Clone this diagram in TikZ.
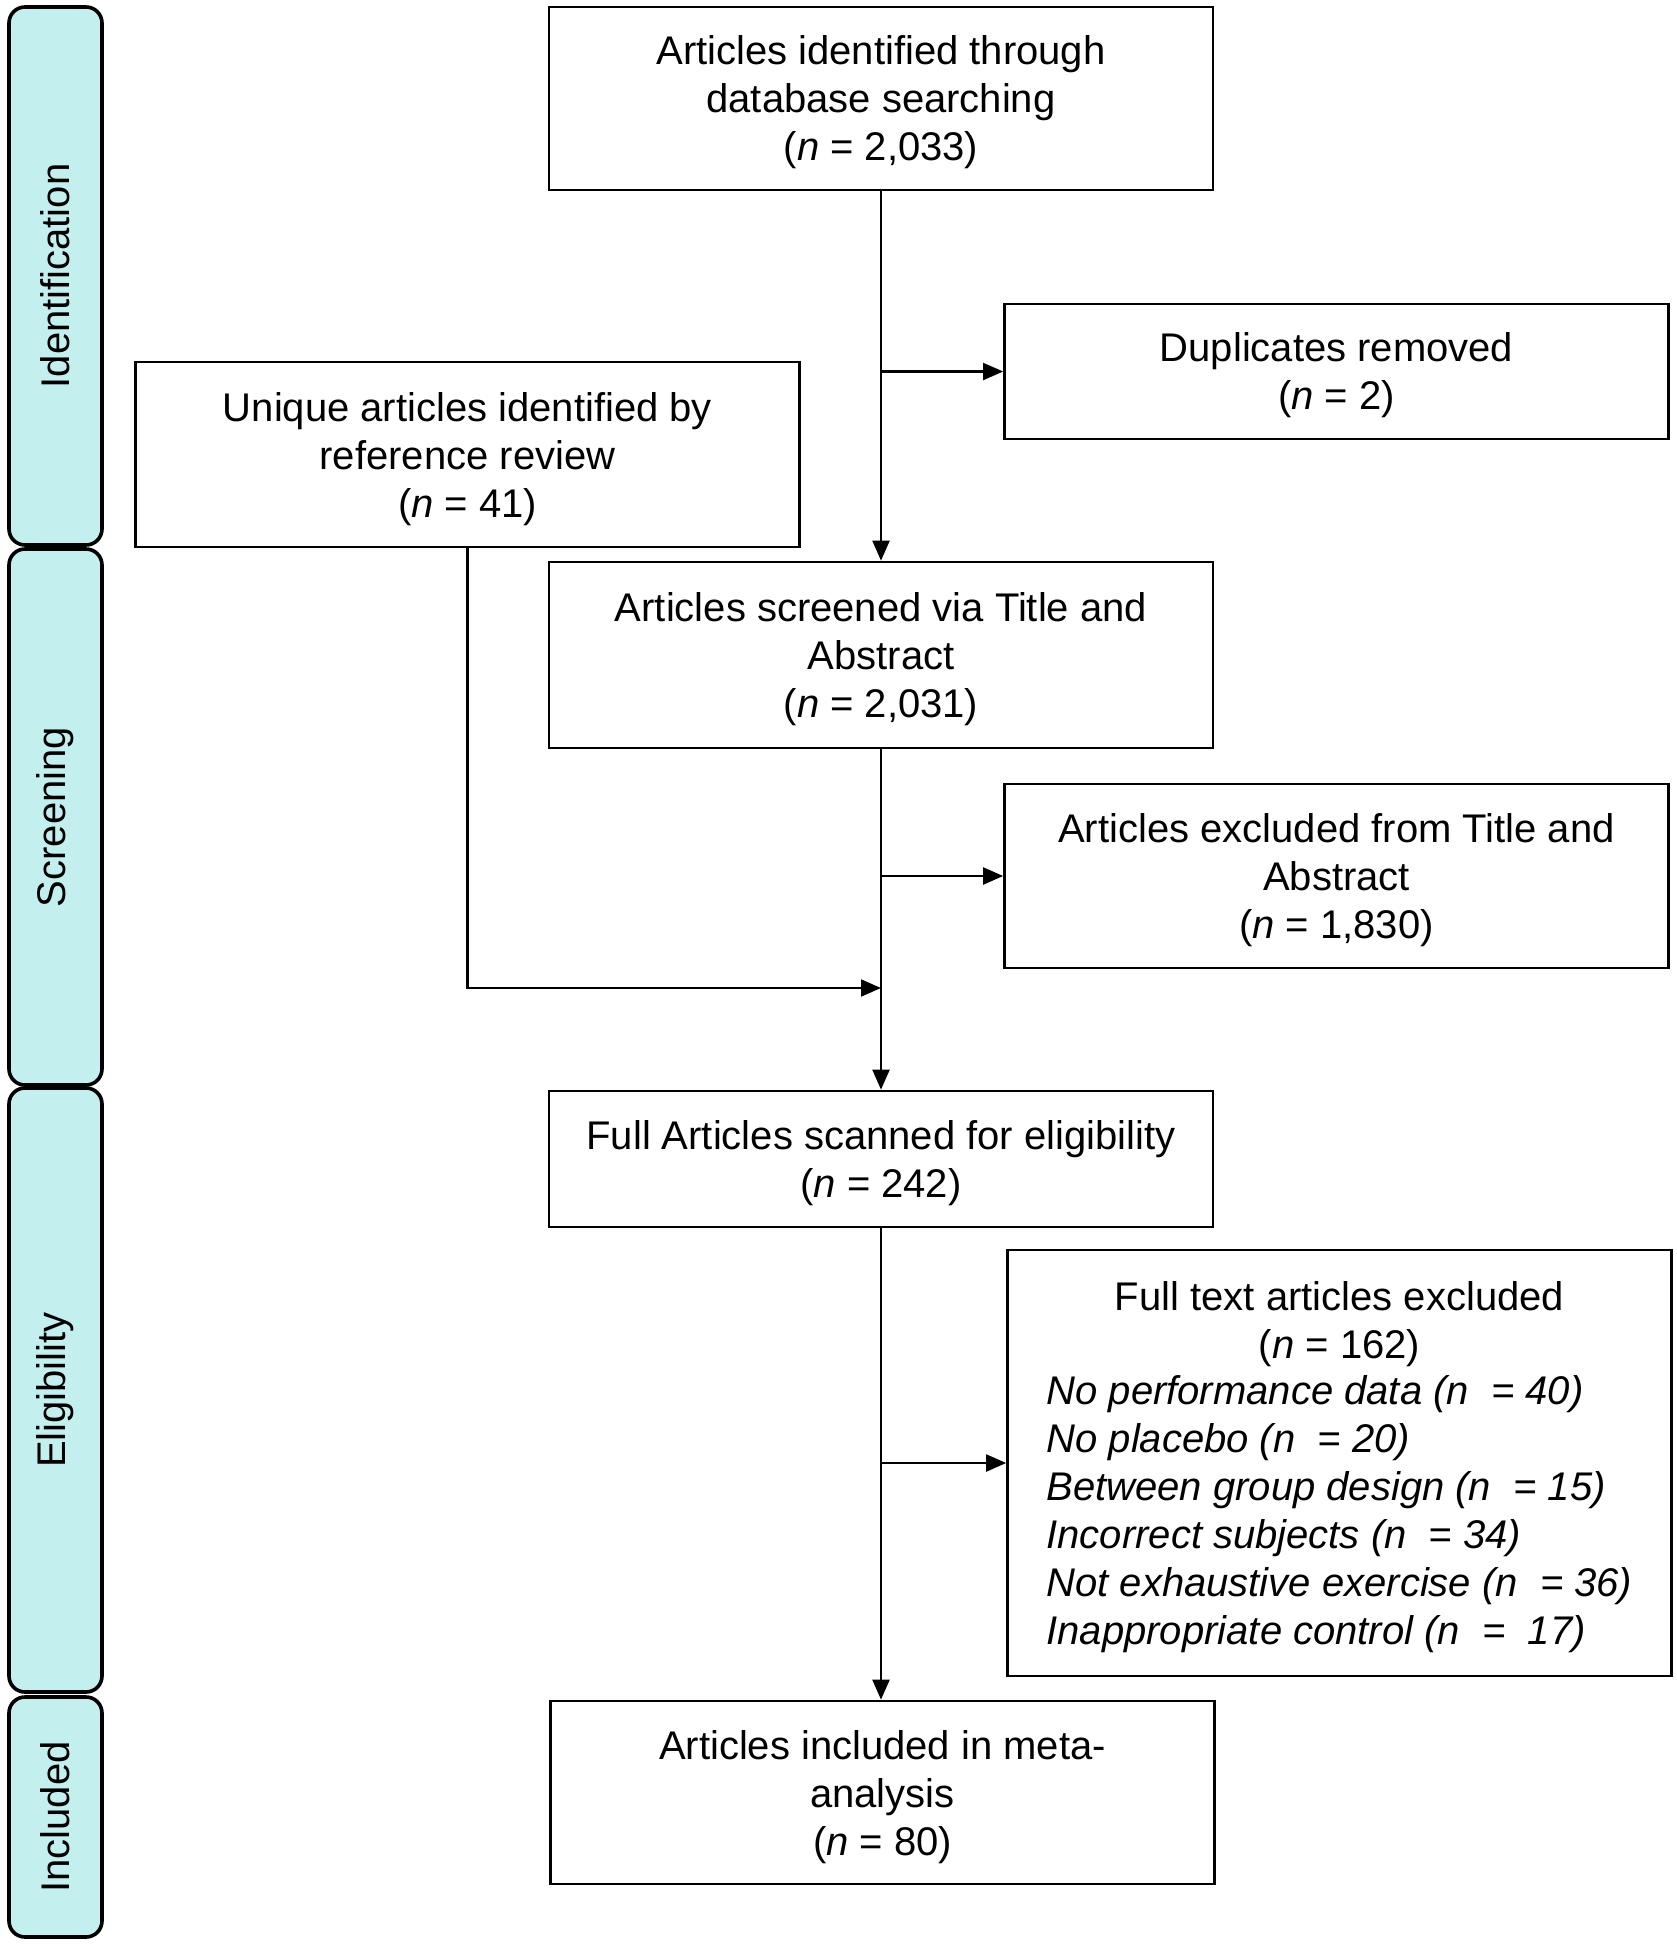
\documentclass[tikz,border=0pt]{standalone}
\usepackage{fontspec}
\setmainfont{Liberation Sans}
\usepackage{tikz}
\usetikzlibrary{arrows.meta}
\definecolor{barfill}{RGB}{196,239,239}

\begin{document}
\begin{tikzpicture}[x=0.25pt,y=-0.25pt,line width=0.65pt,>={Triangle[length=5pt,width=4.2pt]},
  box/.style={draw,minimum width=166pt,align=center,inner sep=2pt,text depth=0pt,font=\fontsize{10}{12}\selectfont},
  phase/.style={draw,fill=barfill,rounded corners=4pt,line width=0.9pt,minimum width=23.25pt,inner sep=0pt,rotate=90,font=\fontsize{10}{12}\selectfont}]
  \useasboundingbox (0,0) rectangle (1677,1950);
  \node[phase,minimum width=134.5pt,minimum height=23.25pt] (Idb) at (55.5,276) {Identification};
  \node[phase,minimum width=134pt,minimum height=23.25pt] (Scb) at (55.5,817) {Screening};
  \node[phase,minimum width=151pt,minimum height=23.25pt] (Elb) at (55.5,1390) {Eligibility};
  \node[phase,minimum width=60pt,minimum height=23.25pt] (Inb) at (55.5,1817) {Included};
  \node[box,minimum height=45.75pt] (Db) at (881,98.5) {Articles identified through\\database searching\\(\textit{n} = 2,033)};
  \node[box,minimum height=33.75pt] (Dup) at (1336.5,371.5) {Duplicates removed\\(\textit{n} = 2)};
  \node[box,minimum height=46.25pt] (Ref) at (467.5,454.5) {Unique articles identified by\\reference review\\(\textit{n} = 41)};
  \node[box,minimum height=46.5pt] (Scr) at (881,655) {Articles screened via Title and\\Abstract\\(\textit{n} = 2,031)};
  \node[box,minimum height=46pt] (ExTA) at (1336.5,876) {Articles excluded from Title and\\Abstract\\(\textit{n} = 1,830)};
  \node[box,minimum height=34pt] (Full) at (881,1159) {Full Articles scanned for eligibility\\(\textit{n} = 242)};
  \node[box,minimum height=106.5pt] (ExFT) at (1339.5,1463) {Full text articles excluded\\(\textit{n} = 162)\\\itshape\begin{tabular}[b]{@{}l@{}}No performance data (n~ = 40)\\No placebo (n~ = 20)\\Between group design (n~ = 15)\\Incorrect subjects (n~ = 34)\\Not exhaustive exercise (n~ = 36)\\Inappropriate control (n~ = ~17)\end{tabular}};
  \node[box,minimum height=45.75pt] (Inc) at (882.5,1792.5) {Articles included in meta-\\analysis\\(\textit{n} = 80)};
  \coordinate (J) at (881,988);
  \draw[->] (Db) to (Scr);\draw[->] (Db.south |- Dup.west) to (Dup.west);
  \draw[->] (Scr) to (Full);\draw[->] (Scr.south |- ExTA.west) to (ExTA.west);
  \draw[->] (Ref.south) |- (J);
  \draw[->] (Full.south) to (Full.south |- Inc.north);\draw[->] (Full.south |- ExFT.west) to (ExFT.west);
\end{tikzpicture}
\end{document}
